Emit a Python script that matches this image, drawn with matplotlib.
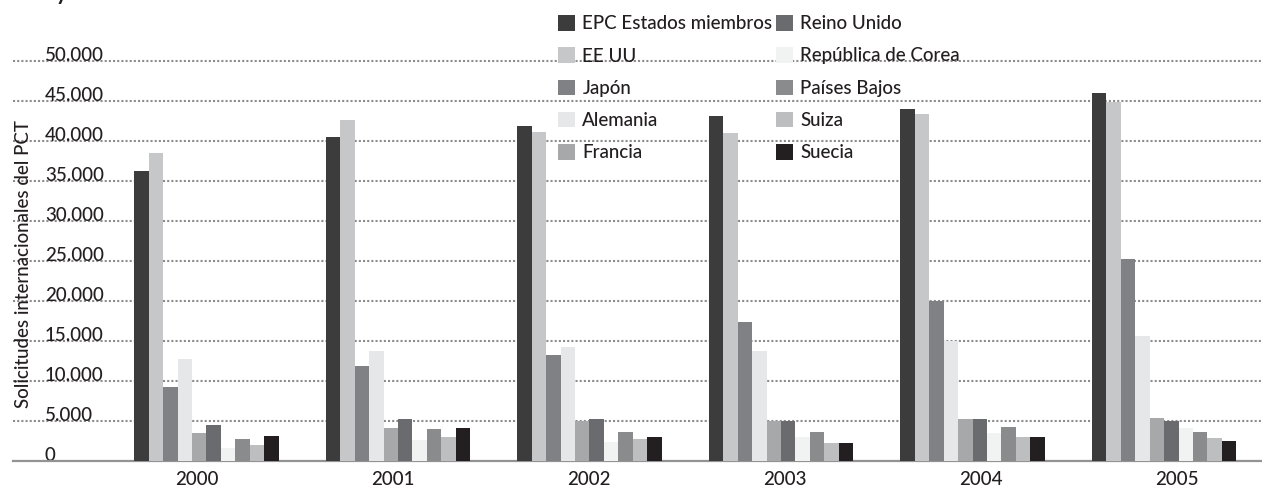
import matplotlib
matplotlib.use('Agg')
import matplotlib.pyplot as plt
from matplotlib.patches import Patch
import numpy as np

plt.rcParams['font.family'] = ['Lato', 'DejaVu Sans']
plt.rcParams['font.weight'] = 'medium'
plt.rcParams['text.color'] = '#231f20'
plt.rcParams['xtick.color'] = '#231f20'
plt.rcParams['ytick.color'] = '#231f20'

# data
years = ['2000', '2001', '2002', '2003', '2004', '2005']
series = ['EPC Estados miembros', 'EE UU', 'Japón', 'Alemania', 'Francia',
          'Reino Unido', 'República de Corea', 'Países Bajos', 'Suiza', 'Suecia']
epc       = [36200, 40450, 41850, 43150, 43950, 45950]
eeuu      = [38450, 42600, 41100, 41000, 43400, 44900]
japon     = [9200, 11850, 13250, 17400, 19950, 25200]
alemania  = [12700, 13700, 14250, 13700, 14950, 15650]
francia   = [3450, 4100, 5000, 5000, 5200, 5350]
reino     = [4450, 5200, 5200, 4950, 5200, 4950]
corea     = [1600, 2650, 2350, 3000, 3500, 4150]
p_bajos   = [2700, 3950, 3650, 3650, 4200, 3600]
suiza     = [2000, 2950, 2750, 2200, 2950, 2850]
suecia    = [3100, 4100, 2950, 2250, 2950, 2500]
values = [epc, eeuu, japon, alemania, francia, reino, corea, p_bajos, suiza, suecia]
colors = ['#3c3c3c', '#c6c7c9', '#808184', '#e6e7e8', '#a7a8aa',
          '#6a6b6e', '#f1f2f2', '#8a8b8d', '#bcbec0', '#231f20']
yticks = np.arange(0, 50001, 5000)
ytick_labels = ['0', '5.000', '10.000', '15.000', '20.000', '25.000',
                '30.000', '35.000', '40.000', '45.000', '50.000']

W, H = 1262, 492
fs = 13.5
fig = plt.figure(figsize=(W / 100, H / 100), dpi=100)
ax = fig.add_axes([13 / W, 31 / H, 1249 / W, 416 / H])

x = np.arange(len(years))
w = 0.0757
for j, (name, vals, c) in enumerate(zip(series, values, colors)):
    ax.bar(x + (j - 4.5) * w, vals, width=w, color=c, label=name, zorder=3)

ax.set_xlim(-1.0104, 5.5117)
ax.set_ylim(0, 52000)

# year labels sit a bit off the group centres in the original
ax.set_xticks(x * 1.0235 - 0.05, years)
ax.tick_params(axis='x', length=0, pad=7, labelsize=fs)

ax.set_yticks(yticks, ytick_labels)
ax.tick_params(axis='y', length=0, pad=-23, labelsize=fs)
for lab in ax.get_yticklabels():
    lab.set_ha('left')
    lab.set_va('baseline')

ax.grid(axis='y', color='#8c8c8c', linestyle=(0, (1, 1)), linewidth=1.5, zorder=0)
for s in ['top', 'right', 'left']:
    ax.spines[s].set_visible(False)
ax.spines['bottom'].set_color('#939393')
ax.spines['bottom'].set_linewidth(1.6)
ax.spines['bottom'].set_zorder(2)

fig.text(24 / W, 1 - 264 / H, 'Solicitudes internacionales del PCT',
         rotation=90, ha='center', va='center', fontsize=fs)

# clipped remnant of a title above the chart
fig.text(55 / W, 1 + 1 / H, 'y', fontsize=20, va='baseline')

# legend in two columns, placed like the original
handles = [Patch(facecolor=c) for c in colors]
leg_kw = dict(frameon=False, fontsize=fs, handlelength=0.9, handleheight=0.9,
              handletextpad=0.4, labelspacing=0.8, borderpad=0, borderaxespad=0)
leg1 = fig.legend(handles[:5], series[:5], loc='upper left',
                  bbox_to_anchor=(558 / W, 1 - 15 / H), **leg_kw)
leg2 = fig.legend(handles[5:], series[5:], loc='upper left',
                  bbox_to_anchor=(776 / W, 1 - 15 / H), **leg_kw)

fig.savefig('out.png', dpi=100)
